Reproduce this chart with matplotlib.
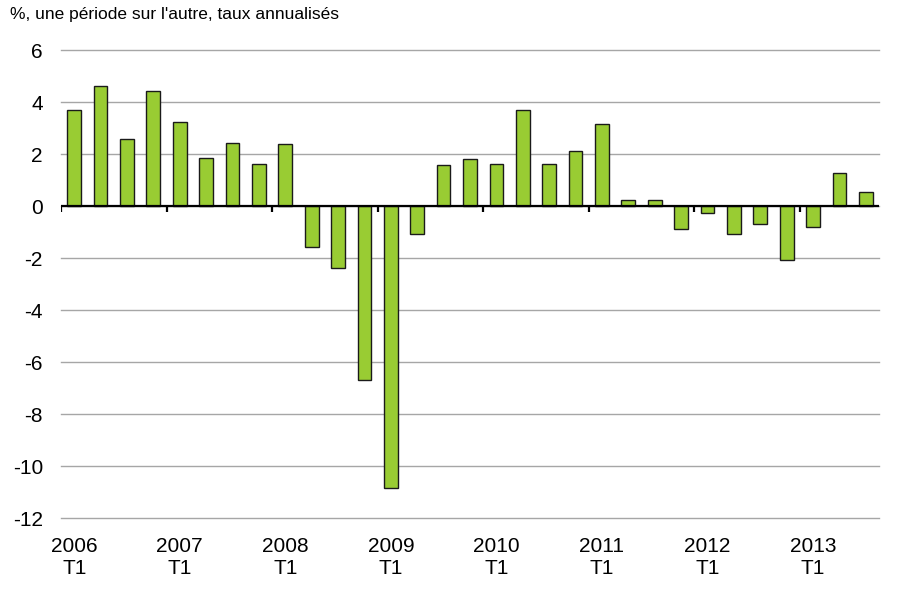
import numpy as np
from matplotlib import pyplot as plt

plt.rcParams['font.family'] = ['Liberation Sans', 'DejaVu Sans']
plt.rcParams['axes.unicode_minus'] = False

# quarterly growth, 2006 T1 .. 2013 T3
values = [3.68, 4.62, 2.58, 4.43, 3.22, 1.86, 2.42, 1.62, 2.37,
          -1.58, -2.38, -6.69, -10.83, -1.06,
          1.57, 1.8, 1.61, 3.68, 1.61, 2.1, 3.15,
          0.22, 0.22, -0.87, -0.28, -1.08, -0.69, -2.08, -0.82,
          1.27, 0.52]
years = ['2006', '2007', '2008', '2009', '2010', '2011', '2012', '2013']
yearLabels = [y + '\nT1' for y in years]
title = "%, une période sur l'autre, taux annualisés"

n = len(values)
x = np.arange(n)

fig = plt.figure(figsize=(9, 5.92), dpi=100)
ax = fig.add_axes([61/900, 1 - 518/592, (879 - 61)/900, (518 - 50)/592])

ax.set_axisbelow(True)
ax.yaxis.grid(True, color='#a6a6a6', linewidth=1.0)
ax.bar(x, values, width=0.52, color='#99cc33', edgecolor='#1a1a1a', linewidth=1.0, zorder=2)
ax.axhline(0, color='black', linewidth=1.6, zorder=3)

# little ticks on the zero line between years
bounds = np.arange(len(years)) * 4 - 0.5
ax.vlines(bounds, -0.22, 0, color='black', linewidth=1.6, zorder=3)

ax.set_xlim(-0.5, n - 0.5)
ax.set_ylim(-12, 6)
ax.set_yticks(np.arange(-12, 7, 2))
ax.set_xticks(np.arange(len(years)) * 4)
ax.set_xticklabels(yearLabels, linespacing=1.2)
ax.tick_params(axis='both', length=0, labelsize=15)
ax.tick_params(axis='y', pad=13)
ax.tick_params(axis='x', pad=14)
for s in ax.spines.values():
    s.set_visible(False)
for gl in ax.yaxis.get_gridlines():
    gl.set_clip_on(False)

fig.text(0.011, 0.975, title, fontsize=12.5, va='center', ha='left')

fig.savefig('out.png', dpi=100)
